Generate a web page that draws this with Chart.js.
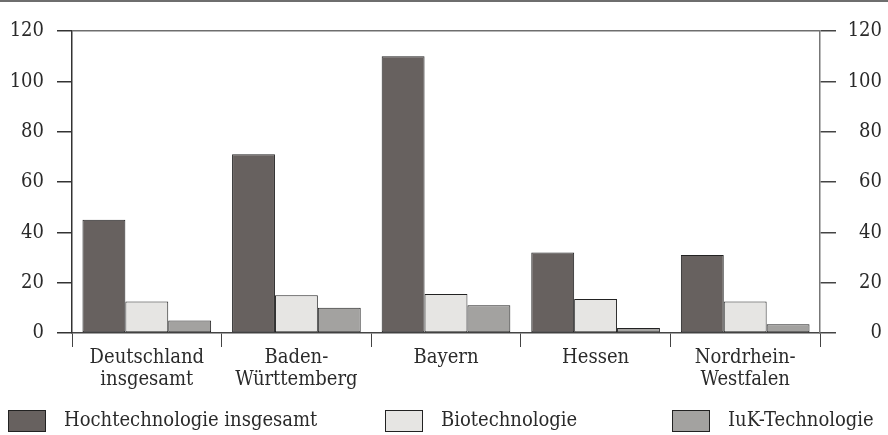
<!DOCTYPE html>
<html>
<head>
<meta charset="utf-8">
<script src="https://cdn.jsdelivr.net/npm/chart.js@4.4.0/dist/chart.umd.min.js"></script>
<style>
  body { margin: 0; background: #fff; }
  canvas { display: block; }
</style>
</head>
<body>
<canvas id="chart" width="888" height="435"></canvas>
<script>
// Kategorien (Bundesländer) und Werte
const categories = [
    ["Deutschland", "insgesamt"],
    ["Baden-", "Württemberg"],
    ["Bayern"],
    ["Hessen"],
    ["Nordrhein-", "Westfalen"]
];
const seriesNames = ["Hochtechnologie insgesamt", "Biotechnologie", "IuK-Technologie"];
const hochtechnologie = [45, 71, 110, 32, 31];
const biotechnologie = [12.5, 15, 15.5, 13.5, 12.5];
const iukTechnologie = [5, 10, 11, 2, 3.5];
const yMin = 0, yMax = 120, yStep = 20;

const FONT = "'DejaVu Serif Condensed', 'Liberation Serif', serif";
const colors = ["#67615f", "#e6e5e3", "#a3a2a0"];
const legendBoxX = [8, 385, 672]; // linke Kante der Legendenkästchen

// Linie oben + Legende unten selbst zeichnen
const frameAndLegend = {
    id: "frameAndLegend",
    afterDraw(chart) {
        const ctx = chart.ctx;
        ctx.save();
        ctx.fillStyle = "#6e6e6e";
        ctx.fillRect(0, 0, chart.width, 2);

        ctx.font = "20px " + FONT;
        const boxW = 38, boxH = 22, gapText = 18, top = 410;
        chart.data.datasets.forEach((ds, i) => {
            const x = legendBoxX[i];
            ctx.fillStyle = ds.backgroundColor;
            ctx.fillRect(x, top, boxW, boxH);
            ctx.strokeStyle = "#222";
            ctx.lineWidth = 1;
            ctx.strokeRect(x + 0.5, top + 0.5, boxW - 1, boxH - 1);
            ctx.fillStyle = "#2a2a2a";
            ctx.textBaseline = "middle";
            ctx.textAlign = "left";
            ctx.fillText(ds.label, x + boxW + gapText, top + boxH / 2);
        });
        ctx.restore();
    }
};

new Chart(document.getElementById("chart"), {
    type: "bar",
    data: {
        labels: categories,
        datasets: [
            { label: seriesNames[0], data: hochtechnologie, backgroundColor: colors[0] },
            { label: seriesNames[1], data: biotechnologie, backgroundColor: colors[1] },
            { label: seriesNames[2], data: iukTechnologie, backgroundColor: colors[2] }
        ]
    },
    options: {
        responsive: false,
        animation: false,
        layout: { padding: { top: 31, right: 6, left: 0, bottom: 0 } },
        datasets: {
            bar: {
                categoryPercentage: 0.86,
                barPercentage: 1,
                borderColor: "#222",
                borderWidth: 1,
                borderSkipped: false
            }
        },
        plugins: {
            legend: { display: false },
            tooltip: { enabled: false }
        },
        scales: {
            x: {
                offset: true,
                afterFit(scale) { scale.height = 102; },
                grid: {
                    offset: true,
                    drawOnChartArea: false,
                    tickLength: 14,
                    color: "#444"
                },
                border: { display: true, color: "#444", width: 1.5 },
                ticks: {
                    color: "#2a2a2a",
                    padding: 0,
                    maxRotation: 0,
                    autoSkip: false,
                    font: { family: FONT, size: 20, lineHeight: 1.1 }
                }
            },
            y: {
                position: "left",
                min: yMin,
                max: yMax,
                afterFit(scale) { scale.width = 72; },
                grid: {
                    tickLength: 15,
                    tickColor: "#333",
                    color: ctx => (ctx.tick && ctx.tick.value === yMax) ? "#6e6e6e" : "transparent",
                    lineWidth: 1.5
                },
                border: { display: true, color: "#333", width: 1.5 },
                ticks: {
                    stepSize: yStep,
                    padding: 13,
                    color: "#2a2a2a",
                    font: { family: FONT, size: 20 }
                }
            },
            y2: {
                position: "right",
                min: yMin,
                max: yMax,
                afterFit(scale) { scale.width = 62; },
                grid: {
                    drawOnChartArea: false,
                    tickLength: 16,
                    tickColor: "#444",
                    lineWidth: 1.5
                },
                border: { display: true, color: "#777", width: 1.5 },
                ticks: {
                    stepSize: yStep,
                    crossAlign: "far",
                    color: "#2a2a2a",
                    font: { family: FONT, size: 20 }
                }
            }
        }
    },
    plugins: [frameAndLegend]
});
</script>
</body>
</html>
